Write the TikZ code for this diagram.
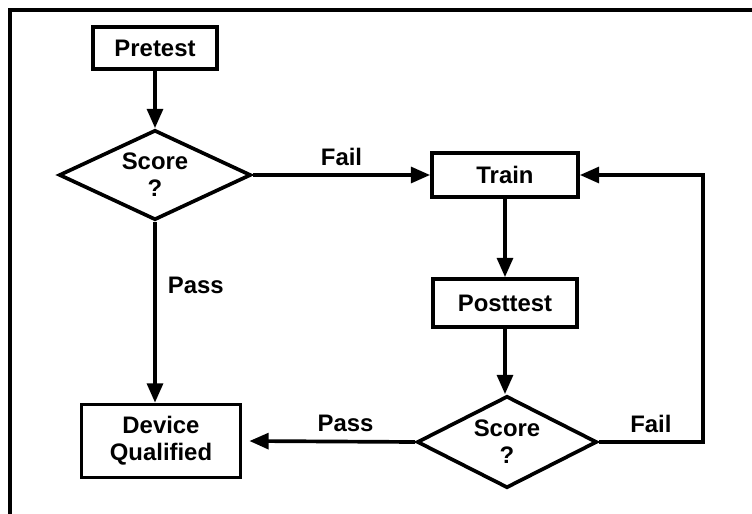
\documentclass[tikz,border=0pt]{standalone}
\usepackage{fontspec}
\setmainfont{Liberation Sans}
\usepackage{tikz}
\usetikzlibrary{arrows.meta,positioning,shapes.geometric}

\begin{document}
\begin{tikzpicture}[
    x=0.02cm, y=-0.02cm,
    every node/.style={font=\fontsize{13.6}{15.5}\selectfont\bfseries},
    box/.style={draw, line width=2.1pt, align=center, inner sep=0pt,
      minimum width=#1},
    decision/.style={draw, diamond, line width=2.1pt, align=center,
      inner sep=0pt, aspect=2.1, minimum width=#1},
    flow/.style={->, line width=2.1pt},
    >={Triangle[length=11pt,width=9pt]}
  ]
  \useasboundingbox (0,0) rectangle (752,514);
  % frame (top and left edge)
  \draw[line width=2.2pt] (752,10) -- (10,10) -- (10,514);

  % Nodes
  \node[box=2.48cm, minimum height=0.84cm]      (pre)   at (155,48)  {Pretest};
  \node[decision=3.84cm, minimum height=1.8cm]  (test1) at (155,175) {Score\\?};
  \node[box=2.92cm, minimum height=0.88cm]      (train) at (505,175) {Train};
  \node[box=2.88cm, minimum height=0.96cm]      (post)  at (505,303) {Posttest};
  \node[decision=3.6cm, minimum height=1.84cm]  (test2) at (507,442) {Score\\?};
  \node[box=3.18cm, minimum height=1.46cm]      (qual)  at (161,441) {Device\\Qualified};
  \coordinate (back) at (703,175);

  % Arrows
  \draw[flow] (pre) -- (test1);
  \draw[flow] (test1) -- node[above=1pt] {Fail} (train);
  \draw[flow] (test1.south) -- node[right=3pt, pos=0.35] {Pass} (test1.south |- qual.north);
  \draw[flow] (train) -- (post);
  \draw[flow] (post.south) -- (post.south |- test2.north);
  \draw[flow] (test2.west) -- node[above=1pt, pos=0.42] {Pass} ([xshift=4pt]qual.east);
  \draw[flow] (test2.east) -- node[above=1pt] {Fail} (test2.east -| back)
    -- (back) -- (train.east);
\end{tikzpicture}
\end{document}
